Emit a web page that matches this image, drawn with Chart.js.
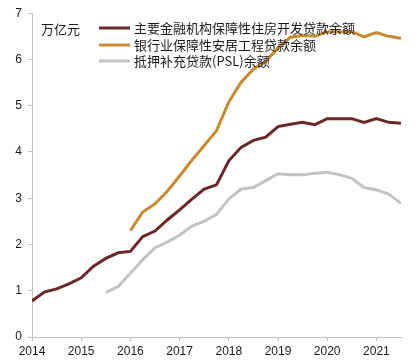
<!DOCTYPE html>
<html>
<head>
<meta charset="utf-8">
<script src="https://cdn.jsdelivr.net/npm/chart.js@4.4.1/dist/chart.umd.min.js"></script>
<style>
  html, body { margin: 0; padding: 0; background: #fff; }
  #wrap { width: 418px; height: 363px; position: relative; }
</style>
</head>
<body>
<div id="wrap"><canvas id="myChart" width="418" height="363"></canvas></div>
<script>
// quarterly points, 2014 Q1 .. 2021 Q3
const quarters = [
    2014.0, 2014.25, 2014.5, 2014.75,
    2015.0, 2015.25, 2015.5, 2015.75,
    2016.0, 2016.25, 2016.5, 2016.75,
    2017.0, 2017.25, 2017.5, 2017.75,
    2018.0, 2018.25, 2018.5, 2018.75,
    2019.0, 2019.25, 2019.5, 2019.75,
    2020.0, 2020.25, 2020.5, 2020.75,
    2021.0, 2021.25, 2021.5
];

const seriesNames = [
    '主要金融机构保障性住房开发贷款余额',
    '银行业保障性安居工程贷款余额',
    '抵押补充贷款(PSL)余额'
];

const housingDev = [
    0.78, 0.97, 1.04, 1.15,
    1.28, 1.53, 1.70, 1.82,
    1.85, 2.17, 2.29, 2.53,
    2.75, 2.98, 3.20, 3.29,
    3.81, 4.10, 4.25, 4.32,
    4.55, 4.60, 4.64, 4.59,
    4.72, 4.72, 4.72, 4.64,
    4.72, 4.64, 4.62
];

const bankProject = [
    null, null, null, null,
    null, null, null, null,
    2.30, 2.70, 2.88, 3.15,
    3.48, 3.82, 4.14, 4.46,
    5.08, 5.51, 5.79, 5.96,
    6.25, 6.48, 6.52, 6.50,
    6.60, 6.60, 6.60, 6.49,
    6.58, 6.50, 6.46
];

const pslBalance = [
    null, null, null, null,
    null, null, 0.96, 1.09,
    1.38, 1.67, 1.93, 2.05,
    2.20, 2.40, 2.50, 2.65,
    2.98, 3.20, 3.23, 3.38,
    3.53, 3.51, 3.51, 3.54,
    3.56, 3.51, 3.43, 3.23,
    3.18, 3.09, 2.89
];

const yTicks = [0, 1, 2, 3, 4, 5, 6, 7];
const yearTicks = [2014, 2015, 2016, 2017, 2018, 2019, 2020, 2021];
const unitLabel = '万亿元';

const colors = ['#6e2626', '#c98a30', '#c3c3c3'];

function toPoints(values) {
    return quarters.map((q, i) => ({ x: q, y: values[i] }));
}

// legend + unit drawn inside plot area
const insideLegend = {
    id: 'insideLegend',
    afterDraw(chart) {
        const ctx = chart.ctx;
        ctx.save();
        ctx.font = '13px "Noto Sans CJK SC", sans-serif';
        ctx.fillStyle = '#1a1a1a';
        ctx.textBaseline = 'middle';
        ctx.textAlign = 'left';
        ctx.fillText(unitLabel, 41, 29);
        const rows = [28, 45, 61];
        chart.data.datasets.forEach((ds, i) => {
            const y = rows[i];
            ctx.strokeStyle = ds.borderColor;
            ctx.lineWidth = 3;
            ctx.beginPath();
            ctx.moveTo(99, y);
            ctx.lineTo(130, y);
            ctx.stroke();
            ctx.fillText(ds.label, 134, y);
        });
        ctx.restore();
    }
};

const canvas = document.getElementById('myChart');
const ctx = canvas.getContext('2d');

new Chart(ctx, {
    type: 'line',
    data: {
        datasets: [housingDev, bankProject, pslBalance].map((vals, i) => ({
            label: seriesNames[i],
            data: toPoints(vals),
            borderColor: colors[i],
            backgroundColor: colors[i],
            borderWidth: 3,
            pointRadius: 0,
            fill: false,
            tension: 0,
            spanGaps: false
        }))
    },
    options: {
        responsive: false,
        animation: false,
        layout: { padding: { top: 9, right: 17, left: 0, bottom: 0 } },
        plugins: {
            legend: { display: false },
            tooltip: { enabled: false }
        },
        scales: {
            x: {
                type: 'linear',
                min: 2014,
                max: 2021.5,
                afterBuildTicks: (scale) => {
                    scale.ticks = yearTicks.map(v => ({ value: v }));
                },
                afterFit: (scale) => { scale.height = 26; },
                ticks: {
                    autoSkip: false,
                    maxRotation: 0,
                    padding: 3,
                    color: '#1a1a1a',
                    font: { family: '"Liberation Sans", Arial, sans-serif', size: 12 },
                    callback: (v) => String(v)
                },
                grid: {
                    display: true,
                    drawOnChartArea: false,
                    drawTicks: true,
                    tickLength: 4,
                    color: '#bfbfbf'
                },
                border: { display: true, color: '#bfbfbf', width: 1 }
            },
            y: {
                min: 0,
                max: 7,
                afterBuildTicks: (scale) => {
                    scale.ticks = yTicks.map(v => ({ value: v }));
                },
                afterFit: (scale) => { scale.width = 32; },
                ticks: {
                    padding: 6,
                    color: '#1a1a1a',
                    font: { family: '"Liberation Sans", Arial, sans-serif', size: 12 }
                },
                grid: {
                    display: true,
                    drawOnChartArea: false,
                    drawTicks: true,
                    tickLength: 4,
                    color: '#bfbfbf'
                },
                border: { display: true, color: '#bfbfbf', width: 1 }
            }
        }
    },
    plugins: [insideLegend]
});
</script>
</body>
</html>
